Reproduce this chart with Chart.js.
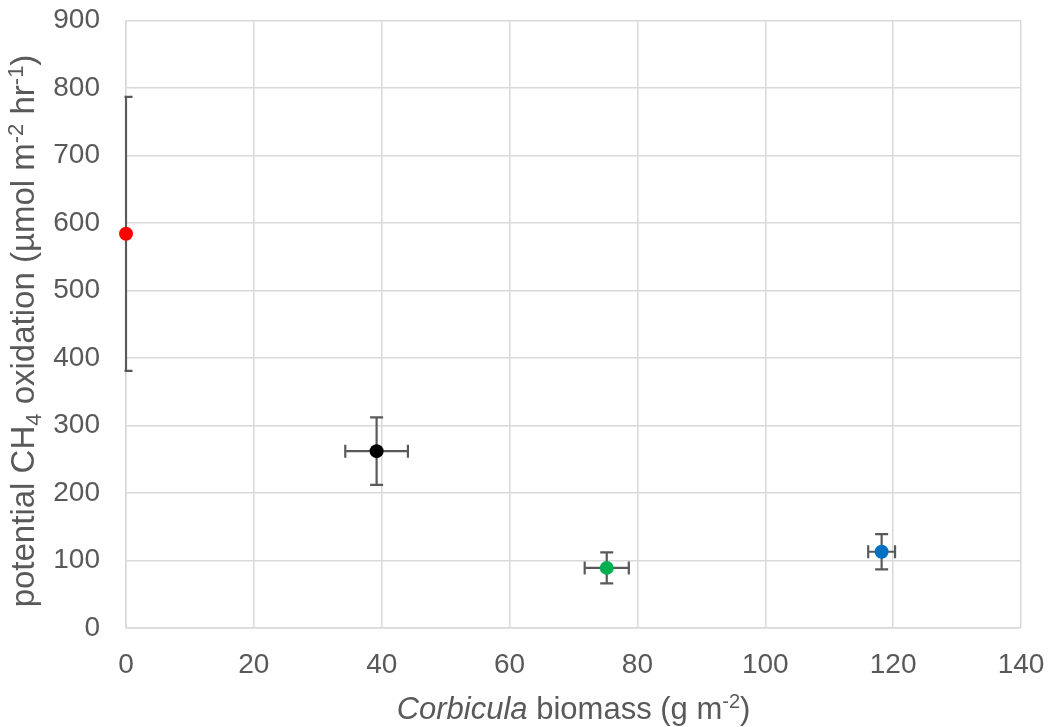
<!DOCTYPE html>
<html>
<head>
<meta charset="utf-8">
<script src="https://cdn.jsdelivr.net/npm/chart.js@4.4.1/dist/chart.umd.min.js"></script>
<style>
  html, body { margin: 0; padding: 0; background: #ffffff; }
  #wrap { width: 1051px; height: 727px; position: relative; }
</style>
</head>
<body>
<div id="wrap"><canvas id="chart" width="1051" height="727"></canvas></div>
<script>
// Corbicula biomass (g m-2) and its standard error
const biomass = [0, 39.2, 75.2, 118.2];
const biomassErr = [0, 4.9, 3.45, 2.1];
// Potential CH4 oxidation (umol m-2 hr-1) and its standard error
const oxidation = [584, 262, 89, 113];
const oxidationErr = [203, 50, 23, 26];
// Axis tick values
const xTicks = [0, 20, 40, 60, 80, 100, 120, 140];
const yTicks = [0, 100, 200, 300, 400, 500, 600, 700, 800, 900];

const FONT = "'Liberation Sans', Arial, sans-serif";
const TEXT = '#595959';
const GRID = '#d9d9d9';
const markerColors = ['#ff0000', '#000000', '#00b050', '#0070c0'];

const points = biomass.map((x, i) => ({ x: x, y: oxidation[i] }));

// Error bars drawn underneath the markers, using the chart's own scales
const errorBars = {
  id: 'errorBars',
  beforeDatasetsDraw(chart) {
    const { ctx, chartArea: a, scales: { x, y } } = chart;
    const cap = 6.5;
    ctx.save();
    ctx.beginPath();
    ctx.rect(a.left - 1.5, a.top - 1.5, a.right - a.left + 3, a.bottom - a.top + 3);
    ctx.clip();
    ctx.strokeStyle = '#595959';
    ctx.lineWidth = 2.2;
    biomass.forEach((bx, i) => {
      const px = x.getPixelForValue(bx);
      const py = y.getPixelForValue(oxidation[i]);
      if (oxidationErr[i] > 0) {
        const top = y.getPixelForValue(oxidation[i] + oxidationErr[i]);
        const bot = y.getPixelForValue(oxidation[i] - oxidationErr[i]);
        ctx.beginPath();
        ctx.moveTo(px, top); ctx.lineTo(px, bot);
        ctx.moveTo(px - cap, top); ctx.lineTo(px + cap, top);
        ctx.moveTo(px - cap, bot); ctx.lineTo(px + cap, bot);
        ctx.stroke();
      }
      if (biomassErr[i] > 0) {
        const l = x.getPixelForValue(bx - biomassErr[i]);
        const r = x.getPixelForValue(bx + biomassErr[i]);
        ctx.beginPath();
        ctx.moveTo(l, py); ctx.lineTo(r, py);
        ctx.moveTo(l, py - cap); ctx.lineTo(l, py + cap);
        ctx.moveTo(r, py - cap); ctx.lineTo(r, py + cap);
        ctx.stroke();
      }
    });
    ctx.restore();
  }
};

// Draws a run of text pieces with sub/superscripts, centred on (0,0)
function drawRich(ctx, parts, size) {
  const small = Math.round(size * 0.66);
  const fontOf = (p) => (p.italic ? 'italic ' : '') + (p.sub || p.sup ? small : size) + 'px ' + FONT;
  let total = 0;
  parts.forEach(p => { ctx.font = fontOf(p); total += ctx.measureText(p.t).width; });
  let cx = -total / 2;
  ctx.textBaseline = 'alphabetic';
  ctx.textAlign = 'left';
  ctx.fillStyle = TEXT;
  parts.forEach(p => {
    ctx.font = fontOf(p);
    let dy = size * 0.36;
    if (p.sub) dy += size * 0.2;
    if (p.sup) dy -= size * 0.36;
    ctx.fillText(p.t, cx, dy);
    cx += ctx.measureText(p.t).width;
  });
}

const axisTitles = {
  id: 'axisTitles',
  afterDraw(chart) {
    const { ctx, chartArea: a } = chart;
    ctx.save();
    ctx.translate((a.left + a.right) / 2, 708);
    drawRich(ctx, [
      { t: 'Corbicula', italic: true },
      { t: ' biomass (g m' },
      { t: '-2', sup: true },
      { t: ')' }
    ], 31);
    ctx.restore();

    ctx.save();
    ctx.translate(22.5, 331);
    ctx.rotate(-Math.PI / 2);
    drawRich(ctx, [
      { t: 'potential CH' },
      { t: '4', sub: true },
      { t: ' oxidation (µmol m' },
      { t: '-2', sup: true },
      { t: ' hr' },
      { t: '-1', sup: true },
      { t: ')' }
    ], 33);
    ctx.restore();
  }
};

new Chart(document.getElementById('chart'), {
  type: 'scatter',
  data: {
    datasets: [{
      data: points,
      clip: false,
      pointRadius: 7,
      pointHoverRadius: 7,
      pointBorderWidth: 0,
      pointBackgroundColor: markerColors,
      pointBorderColor: markerColors,
      showLine: false
    }]
  },
  options: {
    responsive: false,
    animation: false,
    events: [],
    layout: { padding: { left: 0, right: 30, top: 20.5, bottom: 0 } },
    plugins: {
      legend: { display: false },
      tooltip: { enabled: false }
    },
    scales: {
      x: {
        type: 'linear',
        min: 0, max: 140,
        afterBuildTicks(scale) { scale.ticks = xTicks.map(v => ({ value: v })); },
        afterFit(scale) {
          scale.height = 99;
          scale.paddingLeft = 0;
          scale.paddingRight = 0;
        },
        grid: { color: GRID, lineWidth: 1.5, drawTicks: false },
        border: { color: GRID, width: 1.5 },
        ticks: { color: TEXT, font: { family: FONT, size: 28 }, padding: 20, maxRotation: 0 }
      },
      y: {
        type: 'linear',
        min: 0, max: 900,
        afterBuildTicks(scale) { scale.ticks = yTicks.map(v => ({ value: v })); },
        afterFit(scale) {
          scale.width = 126;
          scale.paddingTop = 0;
          scale.paddingBottom = 0;
        },
        grid: { color: GRID, lineWidth: 1.5, drawTicks: false },
        border: { color: GRID, width: 1.5 },
        ticks: { color: TEXT, font: { family: FONT, size: 28 }, padding: 26 }
      }
    }
  },
  plugins: [errorBars, axisTitles]
});
</script>
</body>
</html>
